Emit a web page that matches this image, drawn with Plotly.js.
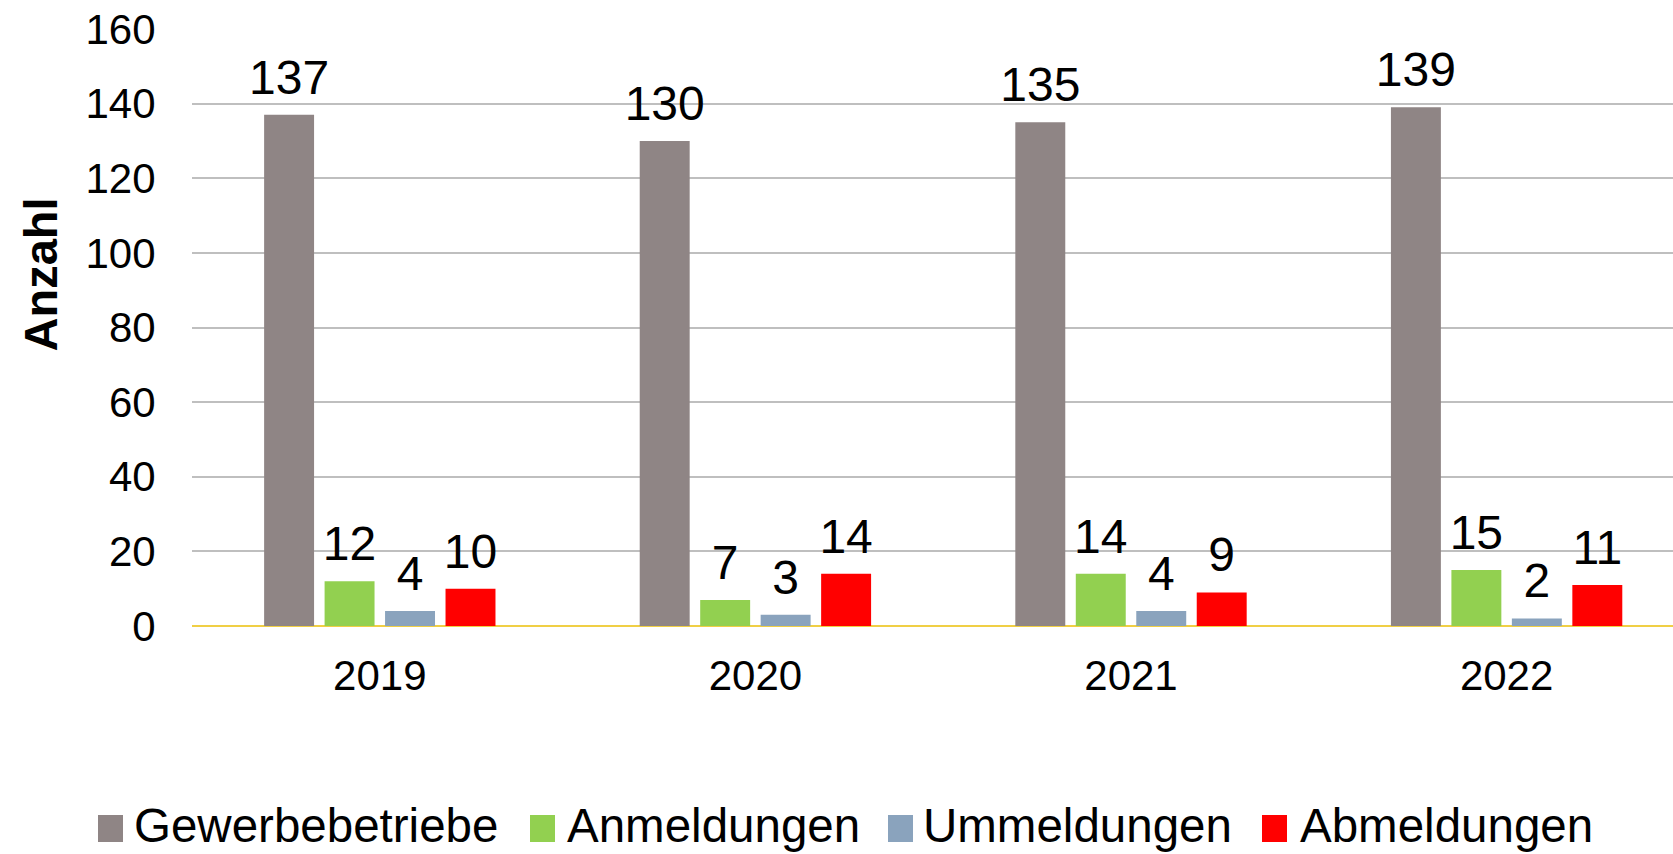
<!DOCTYPE html>
<html>
<head>
<meta charset="utf-8">
<script src="https://cdn.plot.ly/plotly-3.0.1.min.js"></script>
<style>html,body{margin:0;padding:0;background:#fff;}#chart{width:1673px;height:854px;}</style>
</head>
<body>
<div id="chart"></div>
<script>
const years = ['2019', '2020', '2021', '2022'];
const seriesNames = ['Gewerbebetriebe', 'Anmeldungen', 'Ummeldungen', 'Abmeldungen'];
const gewerbebetriebe = [137, 130, 135, 139];
const anmeldungen = [12, 7, 14, 15];
const ummeldungen = [4, 3, 4, 2];
const abmeldungen = [10, 14, 9, 11];
const yTicks = [0, 20, 40, 60, 80, 100, 120, 140, 160];
const yTitle = 'Anzahl';

const seriesValues = [gewerbebetriebe, anmeldungen, ummeldungen, abmeldungen];
const colors = ['#8F8585', '#92D050', '#8AA3BD', '#FF0000'];
const FONT = '"Liberation Sans", Arial, sans-serif';

// plot area geometry (pixels)
const M = {l: 192, r: 0, t: 29, b: 228};
const W = 1673, H = 854;
const PW = W - M.l - M.r, PH = H - M.t - M.b;
const pxX = v => (v - M.l) / PW;
const pxY = v => (M.t + PH - v) / PH;

const bars = seriesValues.map((vals, i) => ({
  type: 'bar',
  name: seriesNames[i],
  x: years,
  y: vals,
  marker: {color: colors[i], line: {width: 0}},
  showlegend: false,
  hoverinfo: 'x+y+name'
}));

// value labels, grouped to sit above each bar
const labels = seriesValues.map((vals, i) => ({
  type: 'scatter',
  mode: 'markers+text',
  name: seriesNames[i] + ' labels',
  x: years,
  y: vals,
  text: vals.map(String),
  textposition: 'top center',
  textfont: {family: FONT, size: 48, color: '#000'},
  marker: {size: 13, opacity: 0, color: colors[i]},
  cliponaxis: false,
  showlegend: false,
  hoverinfo: 'skip'
}));

// legend (drawn as squares + text, sized like the original)
const legendSquareX = [98, 530, 888, 1262];
const legendTextX = [132, 565, 921, 1298];
const legendShapes = seriesNames.map((n, i) => ({
  type: 'rect', xref: 'paper', yref: 'paper',
  x0: pxX(legendSquareX[i]), x1: pxX(legendSquareX[i] + 25),
  y0: pxY(842), y1: pxY(815),
  fillcolor: colors[i], line: {width: 0}, layer: 'above'
}));
const legendTexts = seriesNames.map((n, i) => ({
  text: n, xref: 'paper', yref: 'paper',
  x: pxX(legendTextX[i]), y: pxY(825.5),
  xanchor: 'left', yanchor: 'middle', showarrow: false,
  font: {family: FONT, size: 47.5, color: '#000'}
}));

const layout = {
  width: W,
  height: H,
  margin: Object.assign({pad: 0}, M),
  paper_bgcolor: '#fff',
  plot_bgcolor: '#fff',
  barmode: 'group',
  scattermode: 'group',
  bargap: 0.356,
  scattergap: 0.356,
  bargroupgap: 0.174,
  showlegend: false,
  xaxis: {
    type: 'category',
    range: [-0.5, 3.443],
    showgrid: false,
    zeroline: false,
    showline: false,
    ticks: 'outside',
    ticklen: 13,
    tickcolor: 'rgba(0,0,0,0)',
    tickfont: {family: FONT, size: 42, color: '#000'},
    fixedrange: true
  },
  yaxis: {
    range: [0, 160],
    tickvals: yTicks,
    ticktext: yTicks.map(String),
    showgrid: true,
    gridcolor: '#BFBFBF',
    gridwidth: 2,
    zeroline: true,
    zerolinecolor: '#F0CF45',
    zerolinewidth: 2,
    showline: false,
    ticks: 'outside',
    ticklen: 27,
    tickcolor: 'rgba(0,0,0,0)',
    tickfont: {family: FONT, size: 42, color: '#000'},
    fixedrange: true
  },
  shapes: legendShapes,
  annotations: [{
    text: '<b>' + yTitle + '</b>',
    xref: 'paper', yref: 'paper',
    x: pxX(40), y: pxY(274.5),
    xanchor: 'center', yanchor: 'middle',
    textangle: -90,
    showarrow: false,
    font: {family: FONT, size: 47, color: '#000'}
  }].concat(legendTexts)
};

Plotly.newPlot('chart', bars.concat(labels), layout, {displayModeBar: false, staticPlot: true});
</script>
</body>
</html>
